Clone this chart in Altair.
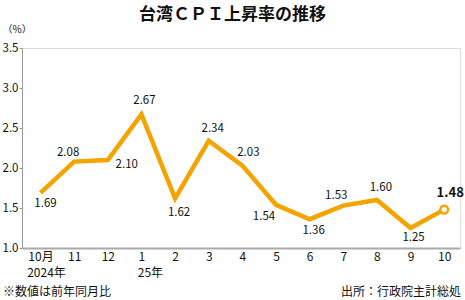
import altair as alt
import pandas as pd

# ---- data ----
months = ["10月", "11", "12", "1", "2", "3", "4", "5", "6", "7", "8", "9", "10"]
years = ["2024年", "", "", "25年", "", "", "", "", "", "", "", "", ""]
cpi = [1.69, 2.08, 2.10, 2.67, 1.62, 2.34, 2.03, 1.54, 1.36, 1.53, 1.60, 1.25, 1.48]
y_ticks = [1.0, 1.5, 2.0, 2.5, 3.0, 3.5]

title_text = "台湾ＣＰＩ上昇率の推移"
unit_text = "（%）"
note_left = "※数値は前年同月比"
note_right = "出所：行政院主計総処"

df = pd.DataFrame({
    "i": list(range(len(cpi))), "v": cpi,
    "lbl": [f"{v:.2f}" for v in cpi], "yr": years,
})

FONT = "Noto Sans CJK JP"
ORANGE = "#F5A300"
W, H = 438, 200

# label offsets (pixels) for each value label
offsets = {
    0: (5, 11), 1: (-6, -9), 2: (19, 5), 3: (3, -13), 4: (4, 15), 5: (4, -12),
    6: (6, -13), 7: (-12, 12), 8: (4, 12), 9: (-7, -10), 10: (4, -12), 11: (3, 10),
    12: (6, -17),
}
year_dx = {0: 6, 3: 9}

label_expr = "[" + ",".join(f"'{m}'" for m in months) + "][datum.value]"

xscale = alt.Scale(domain=[-0.55, 12.47], nice=False, zero=False)
x = alt.X(
    "i:Q",
    scale=xscale,
    axis=alt.Axis(
        values=list(range(len(cpi))), labelExpr=label_expr, title=None, grid=False,
        ticks=False, domainColor="#aaaaaa", domainWidth=2, labelFont=FONT,
        labelFontSize=12, labelColor="#111111", labelPadding=3,
        labelAngle=0, labelFlush=False, labelOverlap=False,
    ),
)
y = alt.Y(
    "v:Q",
    scale=alt.Scale(domain=[1.0, 3.5], nice=False, zero=False),
    axis=alt.Axis(
        values=y_ticks, format=".1f", title=unit_text, titleAngle=0, titleX=-20,
        titleY=-19, titleAlign="left", titleBaseline="middle", titleFontWeight="normal",
        titleFontSize=10, titleFont=FONT, titleColor="#111111", tickSize=3,
        tickColor="#999999", domainColor="#999999", labelPadding=1, grid=False,
        labelFont=FONT, labelFontSize=11.5, labelColor="#111111", labelFlush=False,
        labelOverlap=False,
    ),
)

base = alt.Chart(df)
line = base.mark_line(color=ORANGE, strokeWidth=4.5, strokeJoin="miter").encode(x=x, y=y)
last = base.transform_filter(alt.datum.i == len(cpi) - 1).mark_point(
    shape="circle", filled=True, fill="white", stroke=ORANGE, strokeWidth=2.5,
    size=60, opacity=1,
).encode(x=x, y=y)

layers = [line, last]
for i, (dx, dy) in offsets.items():
    is_last = i == len(cpi) - 1
    layers.append(
        base.transform_filter(alt.datum.i == i).mark_text(
            dx=dx, dy=dy, font=FONT, fontSize=13 if is_last else 11.5,
            fontWeight="bold" if is_last else "normal", color="#111111",
            baseline="middle", align="center",
        ).encode(x=x, y=y, text="lbl:N")
    )

# second row of x labels (year markers)
for i, dx in year_dx.items():
    layers.append(
        base.transform_filter(alt.datum.i == i).mark_text(
            font=FONT, fontSize=12, color="#111111", align="center",
            baseline="middle", dx=dx,
        ).encode(x=x, y=alt.value(H + 25), text="yr:N")
    )

one = pd.DataFrame({"a": [0]})
title = alt.Chart(one).mark_text(
    text=title_text, font=FONT, fontSize=17, fontWeight="bold", color="#111111",
    align="center", baseline="middle",
).encode(x=alt.value(210.5), y=alt.value(-33.5))
nl = alt.Chart(one).mark_text(
    text=note_left, font=FONT, fontSize=12, color="#111111", align="left", baseline="middle",
).encode(x=alt.value(-19), y=alt.value(243.5))
nr = alt.Chart(one).mark_text(
    text=note_right, font=FONT, fontSize=12, color="#111111", align="right", baseline="middle",
).encode(x=alt.value(439), y=alt.value(243.5))

chart = alt.layer(*layers, title, nl, nr).properties(
    width=W, height=H,
    autosize=alt.AutoSizeParams(type="none"),
    padding={"left": 22, "top": 48, "right": 5, "bottom": 52},
).configure_view(stroke=None).configure(background="white")

chart.save("out.html", embed_options={"renderer": "svg", "actions": False})
